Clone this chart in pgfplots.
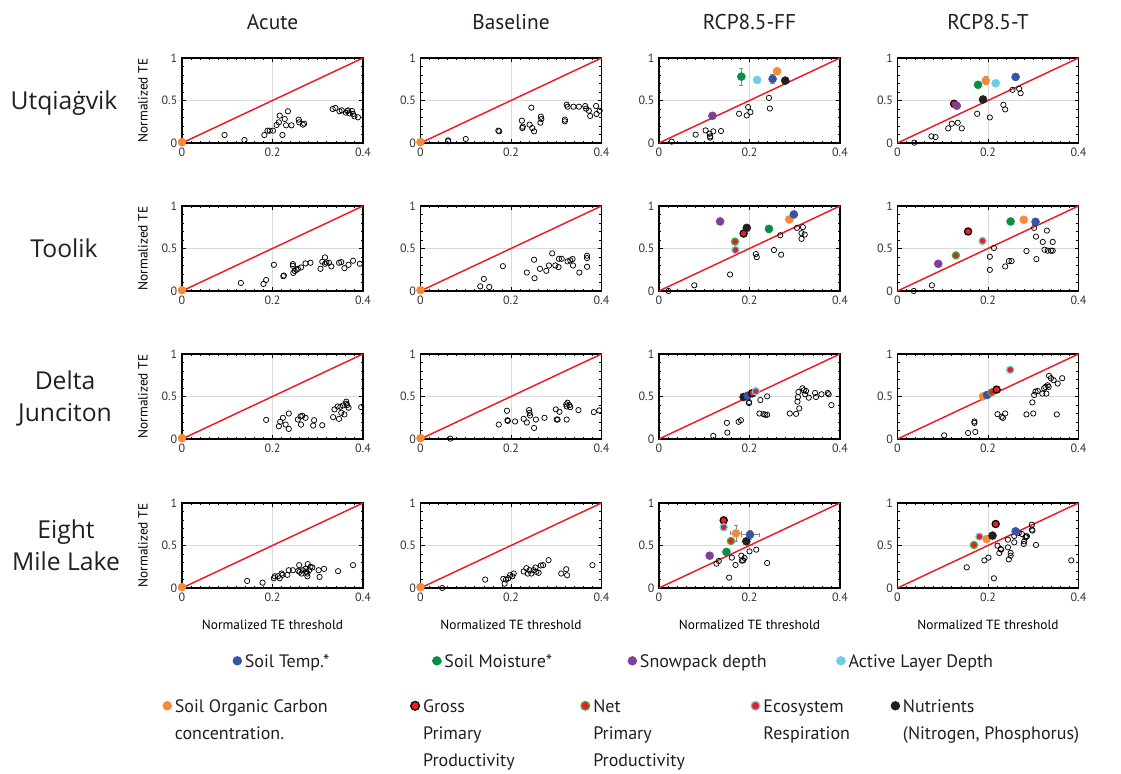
\documentclass[border=0pt]{standalone}
\usepackage{fontspec}
\setmainfont{PT Sans}
\newfontfamily\rowfam{Open Sans}
\usepackage{pgfplots}
\pgfplotsset{compat=1.18}
\definecolor{stemp}{HTML}{3953A4}
\definecolor{smoist}{HTML}{0B8D4A}
\definecolor{snow}{HTML}{7E3F98}
\definecolor{ald}{HTML}{6CCDEA}
\definecolor{soc}{HTML}{F58A3A}
\definecolor{rd}{HTML}{EC1C24}
\definecolor{nutr}{HTML}{231F20}
\definecolor{nppedge}{HTML}{3BB54A}
\definecolor{ink}{HTML}{231F20}
\newcommand\titlefont{\fontsize{16}{19}\selectfont}
\newcommand\rowfont{\rowfam\fontsize{18.5}{24}\selectfont}
\newcommand\legfont{\fontsize{13.5}{20.25}\selectfont}
\pgfplotsset{
 panel/.style={
   width=135.75pt, height=63.75pt, scale only axis, clip=false, anchor=south west,
   xmin=0, xmax=0.4, ymin=0, ymax=1,
   xtick={0,0.2,0.4}, ytick={0,0.5,1},
   xticklabels={0,0.2,0.4}, yticklabels={0,0.5,1},
   minor x tick num=9, minor y tick num=4,
   tick pos=both, tick align=inside,
   major tick length=3pt, minor tick length=1.8pt,
   tick style={black, line width=0.5pt},
   axis line style={black, line width=1.1pt},
   grid=major, major grid style={line width=0.6pt, draw=black!15},
   ticklabel style={font=\fontsize{9}{10}\selectfont, text=black!80},
   /pgf/number format/assume math mode=true,
   label style={font=\fontsize{8.8}{10}\selectfont, text=black!85},
   every axis y label/.style={at={(axis description cs:-0.215,0.5)}, rotate=90, anchor=center},
   every axis x label/.style={at={(axis description cs:0.5,-0.435)}, anchor=center},
 },
 diag/.style={rd, line width=1.1pt, no marks},
 opn/.style={only marks, mark=o, mark size=2pt, black, mark options={line width=0.55pt}},
 fil/.style={only marks, mark=*, mark size=3pt, color=#1},
 ring/.style={only marks, mark=*, mark size=2.7pt, mark options={draw=#1, fill=rd, line width=0.9pt}},
 eby/.style={error bars/y dir=both, error bars/y explicit,
   error bars/error bar style={black!45, line width=0.6pt},
   error bars/error mark options={black!45, rotate=90, mark size=1.6pt, line width=0.6pt}},
 ebxy/.style={eby, error bars/x dir=both, error bars/x explicit},
}
\begin{document}
\begin{tikzpicture}[x=0.75pt,y=0.75pt]
\path (0,0) rectangle (1121,774);
\node[font=\titlefont, text=ink] at (272.5,752) {Acute};
\node[font=\titlefont, text=ink] at (511,752) {Baseline};
\node[font=\titlefont, text=ink] at (749.5,752) {RCP8.5-FF};
\node[font=\titlefont, text=ink] at (988,752) {RCP8.5-T};
\node[font=\rowfont, text=ink, align=center] at (64,671) {Utqiaġvik};
\node[font=\rowfont, text=ink, align=center] at (64,526) {Toolik};
\node[font=\rowfont, text=ink, align=center] at (65,376) {Delta\\Junciton};
\node[font=\rowfont, text=ink, align=center] at (66,229) {Eight\\Mile Lake};

% ===== Row 1: Utqiagvik =====
\begin{axis}[panel, at={(136.5pt,473.25pt)}, ylabel={Normalized TE}]
\addplot[diag] coordinates {(0,0) (0.4,1)};
\addplot[opn] coordinates {(0.094,0.094)(0.138,0.035)(0.182,0.094)(0.189,0.145)(0.194,0.145)(0.201,0.145)(0.209,0.212)(0.214,0.243)(0.216,0.322)(0.222,0.094)(0.227,0.282)(0.230,0.208)(0.234,0.373)(0.242,0.208)(0.258,0.275)(0.259,0.243)(0.267,0.216)(0.270,0.227)(0.333,0.400)(0.339,0.412)(0.348,0.373)(0.353,0.384)(0.362,0.357)(0.365,0.376)(0.367,0.384)(0.370,0.349)(0.376,0.376)(0.378,0.341)(0.381,0.314)(0.389,0.302)};
\addplot[fil=soc] coordinates {(0,0.01)};
\end{axis}
\begin{axis}[panel, at={(315.375pt,473.25pt)}]
\addplot[diag] coordinates {(0,0) (0.4,1)};
\addplot[opn] coordinates {(0.061,0.031)(0.061,0.020)(0.100,0.047)(0.172,0.145)(0.174,0.137)(0.224,0.263)(0.225,0.176)(0.226,0.192)(0.241,0.216)(0.245,0.416)(0.247,0.176)(0.251,0.137)(0.265,0.239)(0.266,0.310)(0.267,0.282)(0.319,0.275)(0.319,0.255)(0.323,0.451)(0.325,0.427)(0.338,0.427)(0.350,0.427)(0.364,0.435)(0.366,0.404)(0.372,0.380)(0.375,0.318)(0.388,0.435)(0.389,0.341)(0.396,0.380)};
\addplot[fil=soc] coordinates {(0,0.01)};
\end{axis}
\begin{axis}[panel, at={(494.25pt,473.25pt)}]
\addplot[diag] coordinates {(0,0) (0.4,1)};
\addplot[opn] coordinates {(0.028,0.016)(0.081,0.098)(0.103,0.148)(0.112,0.109)(0.113,0.078)(0.113,0.063)(0.120,0.137)(0.137,0.141)(0.177,0.344)(0.194,0.324)(0.197,0.422)(0.202,0.363)(0.243,0.531)(0.245,0.406)};
\addplot[fil=snow] coordinates {(0.118,0.320)};
\addplot[fil=smoist, eby] coordinates {(0.182,0.781) +- (0,0.10)};
\addplot[fil=ald] coordinates {(0.217,0.742)};
\addplot[fil=stemp, eby] coordinates {(0.251,0.754) +- (0,0.05)};
\addplot[fil=soc] coordinates {(0.261,0.844)};
\addplot[fil=nutr] coordinates {(0.279,0.734)};
\end{axis}
\begin{axis}[panel, at={(673.125pt,473.25pt)}]
\addplot[diag] coordinates {(0,0) (0.4,1)};
\addplot[opn] coordinates {(0.037,0.004)(0.075,0.078)(0.084,0.070)(0.112,0.172)(0.120,0.227)(0.133,0.238)(0.142,0.172)(0.176,0.344)(0.204,0.301)(0.234,0.449)(0.238,0.395)(0.254,0.625)(0.269,0.637)(0.272,0.586)};
\addplot[ring=black] coordinates {(0.125,0.461)};
\addplot[fil=snow] coordinates {(0.131,0.438)};
\addplot[fil=smoist, eby] coordinates {(0.178,0.684) +- (0,0.03)};
\addplot[fil=nutr] coordinates {(0.189,0.512)};
\addplot[fil=soc, eby] coordinates {(0.195,0.734) +- (0,0.05)};
\addplot[fil=ald] coordinates {(0.217,0.703)};
\addplot[fil=stemp] coordinates {(0.261,0.777)};
\end{axis}

% ===== Row 2: Toolik =====
\begin{axis}[panel, at={(136.5pt,362.25pt)}, ylabel={Normalized TE}]
\addplot[diag] coordinates {(0,0) (0.4,1)};
\addplot[opn] coordinates {(0.130,0.095)(0.180,0.083)(0.186,0.130)(0.203,0.308)(0.224,0.174)(0.225,0.182)(0.245,0.316)(0.245,0.296)(0.246,0.213)(0.249,0.237)(0.253,0.249)(0.256,0.261)(0.263,0.277)(0.273,0.324)(0.284,0.332)(0.306,0.261)(0.310,0.344)(0.316,0.395)(0.316,0.320)(0.319,0.336)(0.325,0.332)(0.330,0.289)(0.347,0.332)(0.352,0.340)(0.359,0.269)(0.368,0.308)(0.378,0.356)(0.393,0.320)};
\addplot[fil=soc] coordinates {(0,0.01)};
\end{axis}
\begin{axis}[panel, at={(315.375pt,362.25pt)}]
\addplot[diag] coordinates {(0,0) (0.4,1)};
\addplot[opn] coordinates {(0.132,0.055)(0.140,0.142)(0.152,0.047)(0.182,0.292)(0.235,0.217)(0.251,0.368)(0.252,0.150)(0.264,0.261)(0.278,0.237)(0.284,0.300)(0.291,0.443)(0.298,0.300)(0.305,0.281)(0.306,0.379)(0.312,0.379)(0.325,0.348)(0.331,0.360)(0.336,0.376)(0.337,0.300)(0.351,0.217)(0.368,0.415)(0.368,0.387)(0.368,0.285)};
\addplot[fil=soc] coordinates {(0,0.01)};
\end{axis}
\begin{axis}[panel, at={(494.25pt,362.25pt)}]
\addplot[diag] coordinates {(0,0) (0.4,1)};
\addplot[opn] coordinates {(0.021,0.0)(0.078,0.067)(0.157,0.194)(0.214,0.435)(0.216,0.399)(0.254,0.482)(0.268,0.656)(0.270,0.427)(0.305,0.743)(0.315,0.680)(0.315,0.613)(0.318,0.751)(0.322,0.664)};
\addplot[fil=snow] coordinates {(0.135,0.818)};
\addplot[ring=nppedge] coordinates {(0.168,0.581)};
\addplot[ring=ald] coordinates {(0.169,0.482)};
\addplot[ring=black] coordinates {(0.187,0.676)};
\addplot[fil=nutr] coordinates {(0.194,0.743)};
\addplot[fil=smoist, eby] coordinates {(0.243,0.731) +- (0,0.04)};
\addplot[fil=soc, eby] coordinates {(0.288,0.842) +- (0,0.04)};
\addplot[fil=stemp, eby] coordinates {(0.298,0.901) +- (0,0.04)};
\end{axis}
\begin{axis}[panel, at={(673.125pt,362.25pt)}]
\addplot[diag] coordinates {(0,0) (0.4,1)};
\addplot[opn] coordinates {(0.036,0.0)(0.076,0.067)(0.204,0.249)(0.204,0.403)(0.213,0.506)(0.238,0.289)(0.246,0.352)(0.252,0.352)(0.285,0.470)(0.302,0.743)(0.306,0.640)(0.307,0.375)(0.321,0.577)(0.325,0.486)(0.330,0.711)(0.332,0.474)(0.339,0.474)(0.343,0.474)(0.343,0.577)};
\addplot[fil=snow] coordinates {(0.090,0.320)};
\addplot[ring=nppedge] coordinates {(0.129,0.419)};
\addplot[ring=black] coordinates {(0.156,0.700)};
\addplot[ring=ald] coordinates {(0.188,0.589)};
\addplot[fil=smoist] coordinates {(0.250,0.818)};
\addplot[fil=soc] coordinates {(0.279,0.838)};
\addplot[fil=stemp] coordinates {(0.305,0.814)};
\end{axis}

% ===== Row 3: Delta Junction =====
\begin{axis}[panel, at={(136.5pt,251.25pt)}, ylabel={Normalized TE}]
\addplot[diag] coordinates {(0,0) (0.4,1)};
\addplot[opn] coordinates {(0.186,0.225)(0.214,0.150)(0.217,0.202)(0.223,0.249)(0.229,0.170)(0.236,0.119)(0.236,0.300)(0.256,0.229)(0.262,0.265)(0.263,0.170)(0.266,0.273)(0.273,0.249)(0.290,0.158)(0.292,0.221)(0.310,0.162)(0.334,0.257)(0.337,0.348)(0.344,0.383)(0.347,0.237)(0.350,0.379)(0.352,0.308)(0.356,0.395)(0.359,0.289)(0.363,0.415)(0.363,0.439)(0.365,0.399)(0.368,0.368)(0.396,0.375)};
\addplot[fil=soc] coordinates {(0,0.01)};
\end{axis}
\begin{axis}[panel, at={(315.375pt,251.25pt)}]
\addplot[diag] coordinates {(0,0) (0.4,1)};
\addplot[opn] coordinates {(0.066,0.004)(0.173,0.170)(0.191,0.332)(0.192,0.221)(0.193,0.213)(0.209,0.206)(0.228,0.237)(0.235,0.194)(0.240,0.340)(0.241,0.308)(0.242,0.277)(0.251,0.130)(0.255,0.229)(0.274,0.249)(0.299,0.348)(0.301,0.229)(0.303,0.229)(0.307,0.320)(0.322,0.407)(0.323,0.383)(0.325,0.427)(0.329,0.399)(0.331,0.375)(0.323,0.229)(0.349,0.340)(0.383,0.316)(0.395,0.336)};
\addplot[fil=soc] coordinates {(0,0.01)};
\end{axis}
\begin{axis}[panel, at={(494.25pt,251.25pt)}]
\addplot[diag] coordinates {(0,0) (0.4,1)};
\addplot[opn] coordinates {(0.120,0.036)(0.150,0.190)(0.151,0.075)(0.176,0.202)(0.181,0.221)(0.199,0.423)(0.199,0.435)(0.224,0.458)(0.222,0.300)(0.239,0.502)(0.231,0.292)(0.235,0.285)(0.239,0.285)(0.289,0.300)(0.303,0.296)(0.306,0.439)(0.307,0.494)(0.308,0.553)(0.310,0.360)(0.317,0.597)(0.320,0.573)(0.323,0.526)(0.325,0.565)(0.331,0.486)(0.345,0.542)(0.347,0.494)(0.359,0.526)(0.373,0.542)(0.375,0.526)(0.381,0.399)};
\addplot[fil=nutr] coordinates {(0.187,0.494)};
\addplot[fil=stemp] coordinates {(0.196,0.510)};
\addplot[ring=black] coordinates {(0.206,0.538)};
\addplot[ring=ald] coordinates {(0.214,0.561)};
\end{axis}
\begin{axis}[panel, at={(673.125pt,251.25pt)}]
\addplot[diag] coordinates {(0,0) (0.4,1)};
\addplot[opn] coordinates {(0.103,0.043)(0.156,0.071)(0.170,0.190)(0.170,0.206)(0.172,0.083)(0.221,0.292)(0.230,0.261)(0.233,0.249)(0.238,0.300)(0.285,0.289)(0.298,0.431)(0.300,0.300)(0.302,0.518)(0.305,0.557)(0.310,0.565)(0.320,0.534)(0.324,0.597)(0.327,0.613)(0.329,0.534)(0.332,0.632)(0.335,0.743)(0.339,0.715)(0.334,0.613)(0.345,0.692)(0.354,0.652)(0.352,0.289)(0.364,0.715)};
\addplot[fil=soc] coordinates {(0.189,0.502)};
\addplot[fil=stemp] coordinates {(0.198,0.518)};
\addplot[ring=nppedge] coordinates {(0.208,0.549)};
\addplot[ring=black] coordinates {(0.219,0.581)};
\addplot[ring=ald] coordinates {(0.249,0.814)};
\end{axis}

% ===== Row 4: Eight Mile Lake =====
\begin{axis}[panel, at={(136.5pt,139.5pt)}, ylabel={Normalized TE}, xlabel={Normalized TE threshold}]
\addplot[diag] coordinates {(0,0) (0.4,1)};
\addplot[opn] coordinates {(0.144,0.083)(0.178,0.063)(0.203,0.115)(0.205,0.138)(0.212,0.138)(0.216,0.115)(0.220,0.170)(0.222,0.154)(0.233,0.154)(0.236,0.209)(0.245,0.209)(0.257,0.202)(0.259,0.269)(0.260,0.190)(0.264,0.170)(0.267,0.209)(0.273,0.225)(0.275,0.190)(0.277,0.138)(0.277,0.170)(0.278,0.281)(0.281,0.209)(0.284,0.249)(0.288,0.241)(0.302,0.209)(0.304,0.130)(0.314,0.225)(0.345,0.198)(0.378,0.269)};
\addplot[fil=soc] coordinates {(0,0.01)};
\end{axis}
\begin{axis}[panel, at={(315.375pt,139.5pt)}, xlabel={Normalized TE threshold}]
\addplot[diag] coordinates {(0,0) (0.4,1)};
\addplot[opn] coordinates {(0.048,0.0)(0.143,0.099)(0.183,0.107)(0.186,0.051)(0.189,0.099)(0.194,0.115)(0.198,0.150)(0.203,0.138)(0.206,0.170)(0.228,0.194)(0.234,0.233)(0.237,0.170)(0.241,0.209)(0.245,0.170)(0.250,0.209)(0.254,0.241)(0.256,0.190)(0.261,0.178)(0.266,0.265)(0.271,0.269)(0.283,0.328)(0.311,0.170)(0.322,0.221)(0.324,0.150)(0.380,0.269)};
\addplot[fil=soc] coordinates {(0,0.01)};
\end{axis}
\begin{axis}[panel, at={(494.25pt,139.5pt)}, xlabel={Normalized TE threshold}]
\addplot[diag] coordinates {(0,0) (0.4,1)};
\addplot[opn] coordinates {(0.127,0.286)(0.132,0.318)(0.155,0.122)(0.161,0.357)(0.169,0.271)(0.182,0.380)(0.183,0.322)(0.186,0.325)(0.189,0.353)(0.200,0.431)(0.215,0.451)(0.239,0.294)};
\addplot[fil=snow] coordinates {(0.112,0.380)};
\addplot[fil=smoist, eby] coordinates {(0.149,0.424) +- (0,0.02)};
\addplot[ring=black] coordinates {(0.143,0.796)};
\addplot[ring=ald] coordinates {(0.143,0.714)};
\addplot[ring=nppedge] coordinates {(0.159,0.553)};
\addplot[fil=soc, ebxy] coordinates {(0.170,0.643) +- (0.013,0.09)};
\addplot[fil=nutr] coordinates {(0.193,0.549)};
\addplot[fil=stemp, ebxy] coordinates {(0.201,0.627) +- (0.02,0.05)};
\end{axis}
\begin{axis}[panel, at={(673.125pt,139.5pt)}, xlabel={Normalized TE threshold}]
\addplot[diag] coordinates {(0,0) (0.4,1)};
\addplot[opn] coordinates {(0.153,0.243)(0.192,0.325)(0.201,0.357)(0.213,0.114)(0.221,0.498)(0.225,0.412)(0.228,0.459)(0.229,0.451)(0.244,0.478)(0.244,0.569)(0.246,0.337)(0.250,0.412)(0.250,0.380)(0.258,0.612)(0.258,0.537)(0.268,0.647)(0.275,0.635)(0.279,0.518)(0.280,0.549)(0.283,0.596)(0.284,0.608)(0.286,0.608)(0.297,0.686)(0.297,0.745)(0.298,0.675)(0.306,0.506)(0.384,0.325)};
\addplot[ring=nppedge] coordinates {(0.169,0.506)};
\addplot[ring=ald] coordinates {(0.181,0.604)};
\addplot[fil=soc] coordinates {(0.197,0.576)};
\addplot[fil=nutr] coordinates {(0.210,0.616)};
\addplot[ring=black] coordinates {(0.217,0.753)};
\addplot[fil=stemp] coordinates {(0.261,0.667)};
\end{axis}

% ===== Legend row 1 =====
\begin{axis}[at={(0pt,0pt)}, anchor=south west, width=840.75pt, height=580.5pt, scale only axis, hide axis,
  xmin=0, xmax=1, ymin=0, ymax=1,
  legend columns=4,
  legend style={draw=none, fill=none, inner sep=0pt, outer sep=0pt, at={(0.2073,0.158)}, anchor=north west,
    font=\legfont, text=ink, cells={anchor=base west}, /tikz/every even column/.append style={column sep=5pt}},
  legend image code/.code={\path (-3.5pt,4.8pt) -- (3.5pt,4.8pt); \filldraw[#1] (0pt,4.8pt) circle (3.3pt);}]
\addlegendimage{draw=stemp, fill=stemp}
\addlegendentry{\makebox[133.25pt][l]{Soil Temp.*}}
\addlegendimage{draw=smoist, fill=smoist}
\addlegendentry{\makebox[130.25pt][l]{Soil Moisture*}}
\addlegendimage{draw=snow, fill=snow}
\addlegendentry{\makebox[140pt][l]{Snowpack depth}}
\addlegendimage{draw=ald, fill=ald}
\addlegendentry{Active Layer Depth}
\end{axis}

% ===== Legend row 2 =====
\begin{axis}[at={(0pt,0pt)}, anchor=south west, width=840.75pt, height=580.5pt, scale only axis, hide axis,
  xmin=0, xmax=1, ymin=0, ymax=1,
  legend columns=5,
  legend style={draw=none, fill=none, inner sep=0pt, outer sep=0pt, at={(0.1448,0.1077)}, anchor=north west,
    font=\legfont, text=ink, cells={anchor=base west}, /tikz/every even column/.append style={column sep=5pt}},
  legend image code/.code={\path (-3.5pt,4.8pt) -- (3.5pt,4.8pt); \filldraw[#1] (0pt,4.8pt) circle (3.3pt);}]
\addlegendimage{draw=soc, fill=soc}
\addlegendentry{\makebox[169.25pt][l]{\begin{tabular}[t]{@{}l@{}}Soil Organic Carbon\\concentration.\end{tabular}}}
\addlegendimage{draw=black, fill=rd, line width=0.9pt}
\addlegendentry{\makebox[110.75pt][l]{\begin{tabular}[t]{@{}l@{}}Gross\\Primary\\Productivity\end{tabular}}}
\addlegendimage{draw=nppedge, fill=rd, line width=0.9pt}
\addlegendentry{\makebox[110.75pt][l]{\begin{tabular}[t]{@{}l@{}}Net\\Primary\\Productivity\end{tabular}}}
\addlegendimage{draw=ald, fill=rd, line width=0.9pt}
\addlegendentry{\makebox[88.25pt][l]{\begin{tabular}[t]{@{}l@{}}Ecosystem\\Respiration\end{tabular}}}
\addlegendimage{draw=nutr, fill=nutr}
\addlegendentry{\begin{tabular}[t]{@{}l@{}}Nutrients\\(Nitrogen, Phosphorus)\end{tabular}}
\end{axis}
\end{tikzpicture}
\end{document}
